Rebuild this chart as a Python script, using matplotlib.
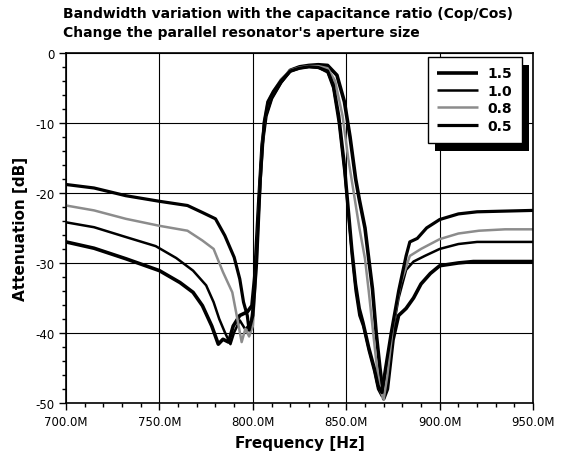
import numpy as np
import matplotlib
matplotlib.use("Agg")
import matplotlib.pyplot as plt
from matplotlib.ticker import MultipleLocator, FuncFormatter
from matplotlib.patches import Rectangle

# capacitance ratio labels (legend order)
ratios = ["1.5", "1.0", "0.8", "0.5"]

# frequency [MHz] / attenuation [dB]
f_15 = [700, 715, 732, 750, 761, 768, 773, 778, 781.5, 784, 787, 789.5, 793, 797, 799.5, 801, 803, 805, 807,
        810, 815, 820, 825, 830, 835, 840, 845, 849, 852, 855, 857, 860, 862, 864, 866, 868, 870, 872, 875,
        878, 882, 886, 890, 895, 900, 910, 918, 935, 950]
a_15 = [-27.0, -27.9, -29.4, -31.1, -32.8, -34.2, -36.1, -39.0, -41.6, -40.9, -41.3, -39.0, -37.5, -37.0, -36.1,
        -32, -22, -13, -9, -6.5, -4.2, -2.5, -2.0, -1.8, -1.7, -1.8, -3.2, -7, -12, -18, -21, -25, -29.4, -33.7,
        -40, -45, -49.4, -48, -41, -37.5, -36.5, -35, -33, -31.5, -30.4, -30, -29.8, -29.8, -29.8]

f_10 = [700, 715, 732, 748, 759, 768, 775, 779, 782, 785, 788, 790, 793, 796, 799, 801, 803, 805, 807, 810,
        815, 820, 825, 830, 835, 840, 843, 846, 849, 851, 853, 855, 857, 859, 862, 865, 867, 869, 871, 874,
        878, 882, 886, 892, 900, 910, 920, 935, 950]
a_10 = [-24.2, -24.9, -26.3, -27.6, -29.3, -31.1, -33.2, -35.6, -38.0, -39.9, -41.6, -39.9, -38.2, -39.5, -38.5,
        -34, -22, -13, -9, -6.5, -4.3, -2.7, -2.2, -2.0, -2.1, -2.8, -5, -10, -17, -23, -29, -34, -37.5, -39,
        -42.5, -45.5, -48, -49, -46, -41, -35, -31, -29.8, -29, -28, -27.3, -27, -27, -27]

f_08 = [700, 715, 732, 750, 765, 773, 779, 784, 789, 791, 794, 796, 798, 800, 802, 804, 806, 808, 811, 815,
        820, 825, 830, 835, 840, 844, 848, 851, 854, 857, 860, 862, 864, 866, 868, 870, 872, 875, 879, 884,
        890, 900, 910, 921, 935, 950]
a_08 = [-21.8, -22.5, -23.7, -24.7, -25.4, -26.8, -28.0, -31.3, -34.2, -37.0, -41.3, -39.4, -40.5, -39, -30,
        -18, -10, -7, -5.5, -3.8, -2.5, -2.1, -1.9, -1.9, -2.2, -4, -9, -15, -20, -25, -29.4, -34, -39, -44,
        -48, -49.5, -46, -39, -33, -29, -28, -26.6, -25.8, -25.4, -25.2, -25.2]

f_05 = [700, 715, 732, 750, 765, 773, 780, 785, 790, 793, 795, 797, 798, 800, 802, 804, 806, 808, 811, 815,
        820, 825, 830, 835, 840, 843, 846, 849, 851, 853, 855, 857, 859, 862, 865, 867, 869, 871, 874, 878,
        882, 884, 888, 893, 900, 910, 920, 935, 950]
a_05 = [-18.8, -19.3, -20.4, -21.2, -21.8, -22.8, -23.7, -26.1, -29.2, -32.3, -35.6, -37.5, -39.6, -37.5, -30,
        -18, -10, -7, -5.5, -4, -2.6, -2.2, -2.0, -2.1, -2.6, -4.5, -9, -16, -22, -28, -33, -36.5, -38.5, -42,
        -45, -47.5, -48.5, -45, -40, -34, -29, -27, -26.5, -25, -23.8, -23.0, -22.7, -22.6, -22.5]

series = [(f_15, a_15), (f_10, a_10), (f_08, a_08), (f_05, a_05)]
colors = ["black", "black", "#8c8c8c", "black"]
widths = [2.6, 1.8, 1.8, 2.3]

fig = plt.figure(figsize=(5.69, 4.56), dpi=100)
ax = fig.add_axes([0.116, 0.114, 0.821, 0.768])

for (f, a), lab, c, lw in zip(series, ratios, colors, widths):
    ax.plot(np.array(f) * 1e6, a, color=c, lw=lw, label=lab, solid_capstyle="butt")

ax.set_xlim(700e6, 950e6)
ax.set_ylim(-50, 0)
ax.xaxis.set_major_locator(MultipleLocator(50e6))
ax.xaxis.set_minor_locator(MultipleLocator(10e6))
ax.yaxis.set_major_locator(MultipleLocator(10))
ax.yaxis.set_minor_locator(MultipleLocator(2))
ax.xaxis.set_major_formatter(FuncFormatter(lambda v, p: "%.1fM" % (v / 1e6)))
ax.yaxis.set_major_formatter(FuncFormatter(lambda v, p: "%d" % v))
ax.tick_params(which="major", length=5, width=1, labelsize=8.5, color="black")
ax.tick_params(which="minor", length=3, width=1)
ax.grid(True, which="major", color="black", lw=0.8)
for s in ax.spines.values():
    s.set_linewidth(1.2)

ax.set_xlabel("Frequency [Hz]", fontsize=11, fontweight="bold", labelpad=5)
ax.set_ylabel("Attenuation [dB]", fontsize=11, fontweight="bold", labelpad=5)

fig.text(0.111, 0.969, "Bandwidth variation with the capacitance ratio (Cop/Cos)",
         fontsize=10, fontweight="bold", ha="left", va="center")
fig.text(0.111, 0.928, "Change the parallel resonator's aperture size",
         fontsize=10, fontweight="bold", ha="left", va="center")

leg = ax.legend(loc="upper right", bbox_to_anchor=(0.976, 0.989), frameon=True, fancybox=False,
                handlelength=2.9, prop={"weight": "bold", "size": 10}, borderpad=0.7,
                labelspacing=0.25, handletextpad=0.7, borderaxespad=0, framealpha=1)
leg.get_frame().set_edgecolor("black")
leg.get_frame().set_facecolor("white")
leg.get_frame().set_linewidth(1.0)
leg.set_zorder(6)

fig.canvas.draw()
bb = leg.get_window_extent()
shadow = Rectangle((bb.x0 + 7, bb.y0 - 8), bb.width, bb.height, transform=None,
                   facecolor="black", edgecolor="none", zorder=5.5, clip_on=False)
ax.add_artist(shadow)

fig.savefig("out.png", dpi=100)
